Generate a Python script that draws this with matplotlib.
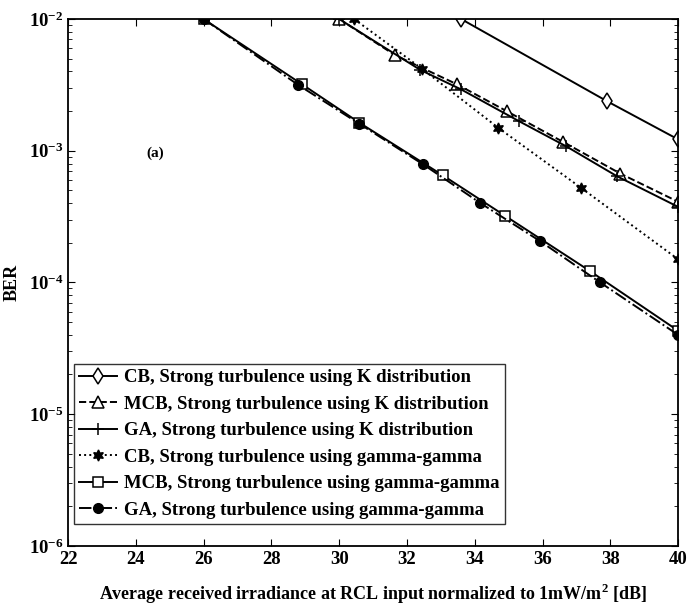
import matplotlib.pyplot as plt
import numpy as np

plt.rcParams['font.family'] = ['Liberation Serif', 'DejaVu Serif']
plt.rcParams['font.weight'] = 'bold'
plt.rcParams['mathtext.fontset'] = 'custom'
plt.rcParams['mathtext.rm'] = 'Liberation Serif:bold'
plt.rcParams['mathtext.bf'] = 'Liberation Serif:bold'

# CB, K distribution
cb_k_x = [33.6, 37.9, 40.0]
cb_k_y = [1.0e-2, 2.38e-3, 1.22e-3]

# MCB, K distribution
mcb_k_x = [30.0, 31.66, 33.47, 34.94, 36.6, 38.3, 40.0]
mcb_k_y = [1.0e-2, 5.3e-3, 3.2e-3, 2.0e-3, 1.17e-3, 6.7e-4, 4.1e-4]

# GA, K distribution
ga_k_x = [30.0, 32.4, 33.6, 35.3, 36.7, 38.2, 40.0]
ga_k_y = [1.0e-2, 4.1e-3, 2.92e-3, 1.68e-3, 1.08e-3, 6.4e-4, 3.75e-4]

# CB, gamma-gamma
cb_gg_x = [30.44, 32.44, 34.7, 37.15, 40.0]
cb_gg_y = [1.0e-2, 4.2e-3, 1.49e-3, 5.2e-4, 1.5e-4]

# MCB, gamma-gamma
mcb_gg_x = [26.0, 28.9, 30.6, 33.06, 34.9, 37.4, 40.0]
mcb_gg_y = [1.0e-2, 3.2e-3, 1.63e-3, 6.5e-4, 3.2e-4, 1.22e-4, 4.3e-5]

# GA, gamma-gamma
ga_gg_x = [26.0, 28.8, 30.6, 32.47, 34.17, 35.94, 37.7, 40.0]
ga_gg_y = [1.0e-2, 3.15e-3, 1.6e-3, 7.9e-4, 4.0e-4, 2.05e-4, 1.0e-4, 4.0e-5]

labels = ['CB, Strong turbulence using K distribution',
          'MCB, Strong turbulence using K distribution',
          'GA, Strong turbulence using K distribution',
          'CB, Strong turbulence using gamma-gamma',
          'MCB, Strong turbulence using gamma-gamma',
          'GA, Strong turbulence using gamma-gamma']

fig = plt.figure(figsize=(6.87, 6.14), dpi=100)
ax = fig.add_axes([0.099, 0.111, 0.888, 0.858])

lw = 1.4
ax.semilogy(cb_k_x, cb_k_y, 'k-', lw=lw, marker='d', ms=8, mfc='white', mew=1.1, label=labels[0])
ax.semilogy(mcb_k_x, mcb_k_y, 'k--', lw=lw, marker='^', ms=8, mfc='white', mew=1.1, label=labels[1])
ax.semilogy(ga_k_x, ga_k_y, 'k-', lw=lw, marker='+', ms=8, mew=1.1, label=labels[2])
ax.semilogy(cb_gg_x, cb_gg_y, 'k:', lw=lw, marker=(6, 1, 0), ms=8, mfc='black', label=labels[3])
ax.semilogy(mcb_gg_x, mcb_gg_y, 'k-', lw=lw, marker='s', ms=7, mfc='white', mew=1.1, label=labels[4])
ax.semilogy(ga_gg_x, ga_gg_y, 'k-.', lw=lw, marker='o', ms=7, mfc='black', label=labels[5])

ax.set_xlim(22, 40)
ax.set_ylim(1e-6, 1e-2)
ax.set_xticks(np.arange(22, 41, 2))
ax.tick_params(which='both', direction='in', top=True, right=True, labelsize=13.5)
ax.tick_params(which='major', length=5)
ax.tick_params(which='minor', length=3)
for lab in ax.get_xticklabels() + ax.get_yticklabels():
    lab.set_fontweight('bold')
for s in ax.spines.values():
    s.set_linewidth(1.3)

ax.text(24.3, 9e-4, '(a)', fontsize=11, fontweight='bold')

ax.set_xlabel('Average received irradiance at RCL input normalized to 1mW/m$^2$ [dB]',
              fontsize=13, fontweight='bold', labelpad=10)
ax.set_ylabel('BER', fontsize=13, fontweight='bold', labelpad=6)

leg = ax.legend(loc='lower left', bbox_to_anchor=(0.0, 0.03), fontsize=13.5,
                frameon=True, fancybox=False, edgecolor='black', handlelength=2.0,
                borderaxespad=0.3, labelspacing=0.5, handletextpad=0.4,
                borderpad=0.3)
leg.get_frame().set_linewidth(1.0)

fig.savefig('out.png', dpi=100)
